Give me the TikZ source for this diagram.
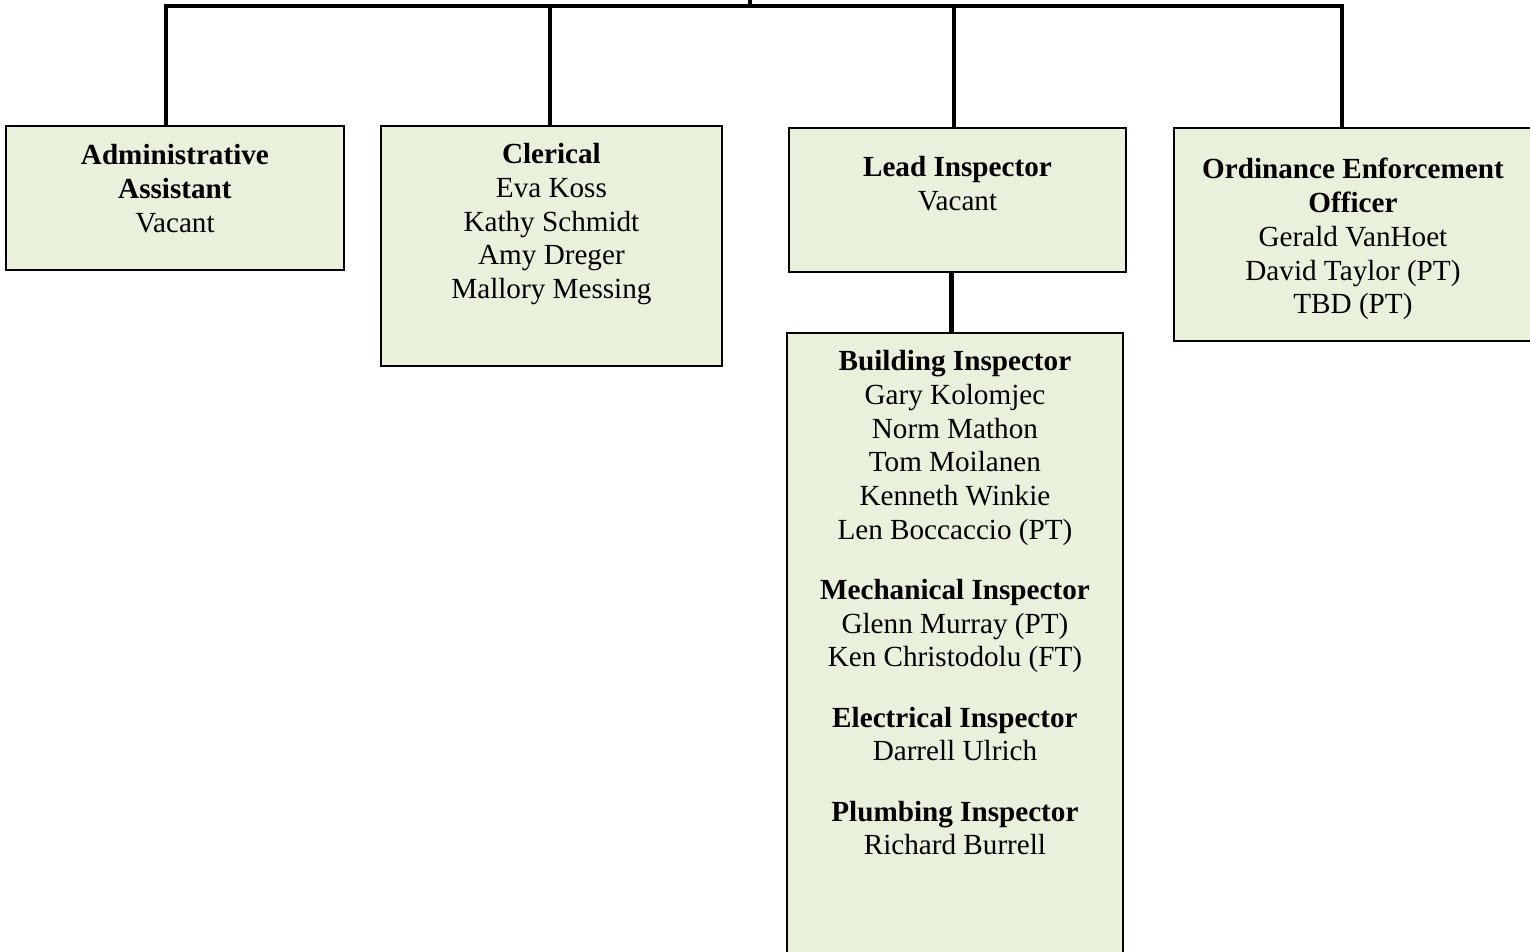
\documentclass[tikz,border=0pt]{standalone}
\usepackage{fontspec}
\setmainfont{Liberation Serif}
\usetikzlibrary{positioning}
\definecolor{boxgreen}{HTML}{E9F0DC}
\tikzset{
  unit/.style={draw=black, fill=boxgreen, line width=1.1pt, anchor=north west, inner sep=0pt},
  staff/.style={align=center, inner sep=0pt, font=\fontsize{16.6}{19.2}\selectfont},
  link/.style={line width=2.8pt, line join=miter}
}
\begin{document}
\begin{tikzpicture}[x=0.02cm, y=-0.02cm]
    \useasboundingbox (0,0) rectangle (1530,952);
    \clip (0,0) rectangle (1530,952);

    % Boxes
    \node[unit, minimum width=6.76cm, minimum height=2.88cm] (admin) at (5,125) {};
    \node[unit, minimum width=6.82cm, minimum height=4.80cm] (clerk) at (380,125) {};
    \node[unit, minimum width=6.74cm, minimum height=2.88cm] (lead) at (788,127) {};
    \node[unit, minimum width=7.16cm, minimum height=4.26cm] (enforce) at (1173,127) {};
    \node[unit, minimum width=6.72cm, minimum height=12.6cm] (insp) at (786,332) {};

    % Names
    \node[staff, below=0.38cm of admin.north] (admin-txt)
        {\textbf{Administrative}\\ \textbf{Assistant}\\ Vacant};
    \node[staff, below=0.36cm of clerk.north] (clerk-txt)
        {\textbf{Clerical}\\ Eva Koss\\ Kathy Schmidt\\ Amy Dreger\\ Mallory Messing};
    \node[staff, below=0.58cm of lead.north] (lead-txt)
        {\textbf{Lead Inspector}\\ Vacant};
    \node[staff, below=0.62cm of enforce.north] (enforce-txt)
        {\textbf{Ordinance Enforcement}\\ \textbf{Officer}\\ Gerald VanHoet\\ David Taylor (PT)\\ TBD (PT)};
    \node[staff, below=0.36cm of insp.north] (insp-txt)
        {\textbf{Building Inspector}\\ Gary Kolomjec\\ Norm Mathon\\ Tom Moilanen\\ Kenneth Winkie\\ Len Boccaccio (PT)\\[0.53cm]
         \textbf{Mechanical Inspector}\\ Glenn Murray (PT)\\ Ken Christodolu (FT)\\[0.53cm]
         \textbf{Electrical Inspector}\\ Darrell Ulrich\\[0.53cm]
         \textbf{Plumbing Inspector}\\ Richard Burrell};

    % Bus points
    \coordinate (head) at (750,-2);
    \coordinate (bus-a) at (166,6);
    \coordinate (bus-c) at (550,6);
    \coordinate (bus-l) at (954,6);
    \coordinate (bus-e) at (1342,6);

    % Connectors
    \draw[link] (head) -- (head |- bus-a);
    \draw[link] (bus-a |- admin.north) -- (bus-a) -- (bus-e) -- (bus-e |- enforce.north);
    \draw[link] (bus-c) -- (bus-c |- clerk.north);
    \draw[link] (bus-l) -- (bus-l |- lead.north);
    \draw[link] (lead.south) ++(-5.5,0) coordinate (lead-out) -- (lead-out |- insp.north);
\end{tikzpicture}
\end{document}
